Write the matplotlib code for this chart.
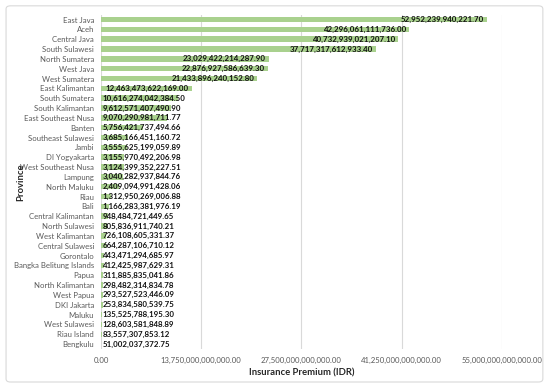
import matplotlib
matplotlib.use('Agg')
import matplotlib.pyplot as plt
from matplotlib.patches import FancyBboxPatch

plt.rcParams['font.family'] = ['Lato', 'DejaVu Sans']

provinces = ['East Java', 'Aceh', 'Central Java', 'South Sulawesi', 'North Sumatera',
             'West Java', 'West Sumatera', 'East Kalimantan', 'South Sumatera',
             'South Kalimantan', 'East Southeast Nusa', 'Banten', 'Southeast Sulawesi',
             'Jambi', 'DI Yogyakarta', 'West Southeast Nusa', 'Lampung', 'North Maluku',
             'Riau', 'Bali', 'Central Kalimantan', 'North Sulawesi', 'West Kalimantan',
             'Central Sulawesi', 'Gorontalo', 'Bangka Belitung Islands', 'Papua',
             'North Kalimantan', 'West Papua', 'DKI Jakarta', 'Maluku', 'West Sulawesi',
             'Riau Island', 'Bengkulu']
premium = [52952239940221.70, 42296061111736.00, 40732939021207.10, 37717317612933.40,
           23029422214287.90, 22876927586639.30, 21433896240152.80, 12463473622169.00,
           10616274042384.50, 9612571407490.90, 9070290981711.77, 5756421737494.66,
           3685166451160.72, 3555625199059.89, 3155970492206.98, 3124399352227.51,
           3040282937844.76, 2409094991428.06, 1312950269006.88, 1166283381976.19,
           948484721449.65, 805836911740.21, 726108605331.37, 664287106710.12,
           443471294685.97, 412425987629.31, 311885835041.86, 298482314834.78,
           293527523446.09, 253834580539.75, 135525788195.30, 128603581848.89,
           83557307853.12, 51002037372.75]
xticks = [0, 13.75e12, 27.5e12, 41.25e12, 55e12]

fig = plt.figure(figsize=(5.5, 3.89), dpi=100)
ax = fig.add_axes([0.1836, 0.1028, 0.7291, 0.8597])

y = list(range(len(provinces)))
ax.barh(y, premium, height=0.56, color='#a9d18e', zorder=2)
ax.set_ylim(len(provinces) - 0.5, -0.5)
ax.set_xlim(0, 55e12)
ax.set_yticks(y)
ax.set_yticklabels(provinces, fontsize=5.6, color='#595959')
ax.set_xticks(xticks)
ax.set_xticklabels(['{:,.2f}'.format(v) for v in xticks], fontsize=5.6, color='#595959')
ax.tick_params(length=0, pad=5)
ax.tick_params(axis='x', pad=6)
ax.grid(axis='x', color='#d9d9d9', linewidth=0.8, zorder=0)
for s in ax.spines.values():
    s.set_visible(False)

ax.set_xlabel('Insurance Premium (IDR)', fontsize=6.8, fontweight='bold', color='#262626', labelpad=3)
ax.set_ylabel('Province', fontsize=6.8, fontweight='bold', color='#262626')
ax.yaxis.set_label_coords(-0.19, 0.5)

# value labels: inside end, pushed to base when the bar is too short
fig.canvas.draw()
r = fig.canvas.get_renderer()
inv = ax.transData.inverted()
for i, v in enumerate(premium):
    t = ax.text(v, i, '{:,.2f}'.format(v), fontsize=5.7, fontweight='bold',
                ha='right', va='center', color='#111111', zorder=3)
    ext = t.get_window_extent(r)
    x0 = ax.transData.transform((0, i))[0]
    bar_end = ax.transData.transform((v, i))[0]
    if ext.width + 4 > bar_end - x0:
        t.set_ha('left')
        t.set_x(inv.transform((x0 + 1.5, 0))[0])
    else:
        t.set_x(inv.transform((bar_end - 3, 0))[0])

frame = FancyBboxPatch((0.011, 0.018), 0.976, 0.967, boxstyle='round,pad=0,rounding_size=0.008',
                       transform=fig.transFigure, facecolor='none', edgecolor='#d9d9d9',
                       linewidth=0.8)
fig.patches.append(frame)

fig.savefig('out.png', dpi=100)
